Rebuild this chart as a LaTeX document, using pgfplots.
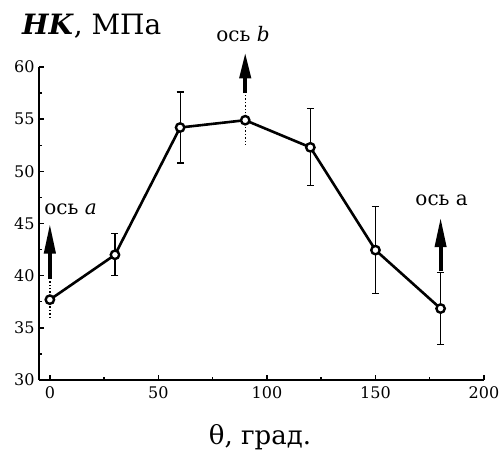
\documentclass[border=0pt]{standalone}
\usepackage{fontspec}
\setmainfont{DejaVu Serif}
\usepackage{pgfplots}
\pgfplotsset{compat=1.18}
\usetikzlibrary{arrows.meta}

\begin{document}
\begin{tikzpicture}
\useasboundingbox (-39pt,-70pt) rectangle (464pt,380pt);
\begin{axis}[
  at={(0,0)}, anchor=south west,
  scale only axis, width=445pt, height=313pt,
  xmin=-5, xmax=200, ymin=30, ymax=60,
  axis lines*=left,
  axis line style={line width=1.4pt},
  xtick={0,50,...,200}, ytick={30,35,...,60},
  minor x tick num=1, minor y tick num=1,
  tick align=inside,
  major tick length=5pt, minor tick length=3pt,
  tick style={line width=1.4pt, black},
  ticklabel style={font=\fontsize{16}{16}\selectfont},
  /pgf/number format/assume math mode=true,
  xticklabel shift=3pt, yticklabel shift=1pt,
  clip=false,
]
% solid error bars
\addplot[draw=none, mark=none, forget plot,
  error bars/.cd, y dir=both, y explicit,
  error bar style={draw=black, line width=1.1pt},
  error mark options={rotate=90, mark size=3.5pt, draw=black, line width=1.1pt}]
  coordinates {(30,42.0) +- (0,2.0) (60,54.2) +- (0,3.4) (120,52.3) +- (0,3.7)
               (150,42.45) +- (0,4.15) (180,36.85) +- (0,3.45)};
% dotted error bars
\addplot[draw=none, mark=none, forget plot,
  error bars/.cd, y dir=both, y explicit, error mark=none,
  error bar style={draw=black, line width=1.4pt, dotted}]
  coordinates {(0,37.7) +- (0,1.9) (90,54.9) +- (0,2.6)};
% data
\addplot[black, line width=2.6pt, mark=*, mark size=4.2pt,
  mark options={fill=white, draw=black, line width=2.4pt}]
  coordinates {(0,37.7) (30,42.0) (60,54.2) (90,54.9) (120,52.3) (150,42.45) (180,36.85)};

\draw[line width=4pt, -{Triangle[length=30pt,width=11pt]}] (axis cs:0,39.7) -- (axis cs:0,45.0);
\draw[line width=4pt, -{Triangle[length=26pt,width=11pt]}] (axis cs:90,57.5) -- (axis cs:90,61.4);
\draw[line width=4pt, -{Triangle[length=30pt,width=11pt]}] (axis cs:180,40.4) -- (axis cs:180,45.6);

\node[font=\fontsize{20}{20}\selectfont] at (axis cs:9.5,46.4) {ось \textit{a}};
\node[font=\fontsize{20}{20}\selectfont] at (axis cs:89,63.2) {ось \textit{b}};
\node[font=\fontsize{20}{20}\selectfont] at (axis cs:180.5,47.2) {ось а};

\node[anchor=base west, inner sep=0, font=\fontsize{28}{28}\selectfont]
  at (axis cs:-12.9,63.1) {\textbf{\textit{HK}}, МПа};
\node[anchor=base, inner sep=0, font=\fontsize{26}{26}\selectfont]
  at (axis cs:96.8,23.8) {θ, град.};
\end{axis}
\end{tikzpicture}
\end{document}
